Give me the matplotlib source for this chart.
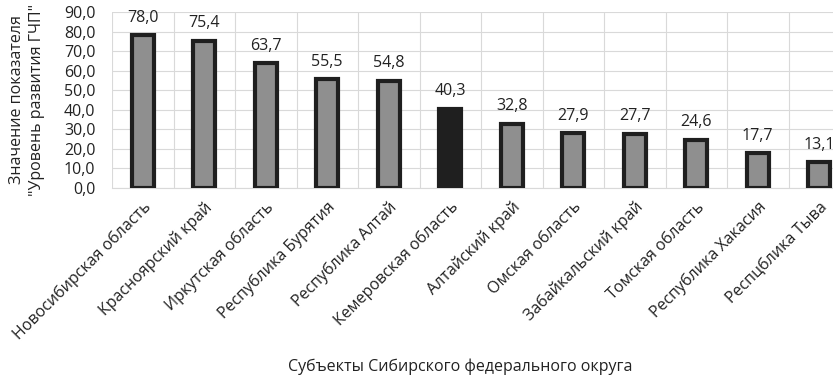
import matplotlib.pyplot as plt
import numpy as np

plt.rcParams['font.family'] = ['Open Sans', 'DejaVu Sans']

regions = ['Новосибирская область', 'Красноярский край', 'Иркутская область',
           'Республика Бурятия', 'Республика Алтай', 'Кемеровская область',
           'Алтайский край', 'Омская область', 'Забайкальский край',
           'Томская область', 'Республика Хакасия', 'Респцблика Тыва']
values = [78.0, 75.4, 63.7, 55.5, 54.8, 40.3, 32.8, 27.9, 27.7, 24.6, 17.7, 13.1]
highlight = 'Кемеровская область'

fig = plt.figure(figsize=(8.33, 3.77), dpi=100)
ax = fig.add_axes([112 / 833, 1 - 188 / 377, 738 / 833, 176 / 377])

x = np.arange(len(regions))
colors = ['#1f1f1f' if r == highlight else '#8f8f8f' for r in regions]
ax.bar(x, values, width=0.35, color=colors, edgecolor='#1f1f1f',
       linewidth=3, zorder=3)

for xi, v in zip(x, values):
    ax.annotate(f'{v:.1f}'.replace('.', ','), xy=(xi, v), xytext=(0, 7),
                textcoords='offset points', ha='center', va='bottom',
                fontsize=11.5, color='#222222')

ax.set_xlim(-0.5, len(regions) - 0.5)
ax.set_ylim(0, 90)
yt = np.arange(0, 91, 10)
ax.set_yticks(yt)
ax.set_yticklabels([f'{t:.1f}'.replace('.', ',') for t in yt],
                   fontsize=11.5, color='#222222')
ax.set_xticks(x)
ax.set_xticklabels(regions, rotation=45, ha='right', rotation_mode='anchor',
                   fontsize=11.5, color='#222222')
ax.set_xticks(np.arange(-0.5, len(regions), 1), minor=True)
ax.tick_params(axis='both', which='both', length=0)
ax.tick_params(axis='x', pad=8)
ax.tick_params(axis='y', pad=12)

ax.grid(True, axis='y', color='#d9d9d9', linewidth=0.8, zorder=0)
ax.grid(True, axis='x', which='minor', color='#d9d9d9', linewidth=0.8, zorder=0)
ax.grid(False, axis='x', which='major')
for side in ['top', 'right', 'left']:
    ax.spines[side].set_visible(False)
ax.spines['bottom'].set_color('#d9d9d9')

fig.text(27 / 833, 1 - 100 / 377, 'Значение показателя\n"Уровень развития ГЧП"',
         rotation=90, ha='center', va='center', fontsize=11.5, color='#222222',
         linespacing=1.3)
fig.text(460 / 833, 1 - 367 / 377, 'Субъекты Сибирского федерального округа',
         ha='center', va='center', fontsize=11.5, color='#222222')

fig.savefig('out.png', dpi=100)
